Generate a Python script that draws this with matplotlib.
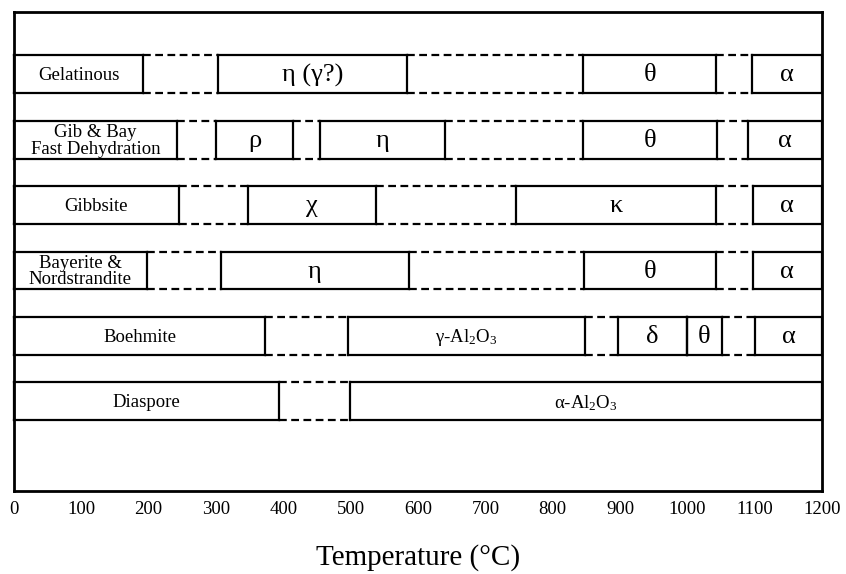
import matplotlib
matplotlib.use("Agg")
import matplotlib.pyplot as plt

plt.rcParams["font.family"] = ["Liberation Serif", "DejaVu Serif"]
plt.rcParams["mathtext.fontset"] = "custom"
plt.rcParams["mathtext.rm"] = "Liberation Serif"
plt.rcParams["mathtext.it"] = "Liberation Serif:italic"
plt.rcParams["mathtext.bf"] = "Liberation Serif:bold"

# ── data: phase boundaries (°C) per starting material, None = transition zone ──
gelatinous_edges = [0, 192, 303, 584, 845, 1043, 1096, 1200]
gelatinous_phases = ["Gelatinous", None, "η (γ?)", None, "θ", None, "α"]

gibbay_edges = [0, 242, 300, 414, 454, 640, 845, 1044, 1090, 1200]
gibbay_phases = ["Gib & Bay\nFast Dehydration", None, "ρ", None, "η", None, "θ", None, "α"]

gibbsite_edges = [0, 245, 347, 538, 746, 1043, 1097, 1200]
gibbsite_phases = ["Gibbsite", None, "χ", None, "κ", None, "α"]

bayerite_edges = [0, 197, 307, 586, 846, 1043, 1097, 1200]
bayerite_phases = ["Bayerite &\nNordstrandite", None, "η", None, "θ", None, "α"]

boehmite_edges = [0, 373, 496, 848, 897, 1000, 1051, 1101, 1200]
boehmite_phases = ["Boehmite", None, "γ-Al$_2$O$_3$", None, "δ", "θ", None, "α"]

diaspore_edges = [0, 394, 499, 1200]
diaspore_phases = ["Diaspore", None, "α-Al$_2$O$_3$"]

temp_ticks = list(range(0, 1300, 100))

rows = [
    (gelatinous_edges, gelatinous_phases),
    (gibbay_edges, gibbay_phases),
    (gibbsite_edges, gibbsite_phases),
    (bayerite_edges, bayerite_phases),
    (boehmite_edges, boehmite_phases),
    (diaspore_edges, diaspore_phases),
]

fig = plt.figure(figsize=(8.46, 5.74), dpi=100)
ax = fig.add_axes([14 / 846, 83 / 574, 808 / 846, 479 / 574])

half = 0.29
lw = 1.6
for i, (edges, phases) in enumerate(rows):
    top, bot = i - half, i + half
    for k, label in enumerate(phases):
        x0, x1 = edges[k], edges[k + 1]
        if label is None:
            # transition zone: dashed top/bottom only
            for y in (top, bot):
                ax.plot([x0, x1], [y, y], color="black", lw=lw, dashes=[3.5, 2],
                        solid_capstyle="butt", clip_on=False)
            continue
        for y in (top, bot):
            ax.plot([x0, x1], [y, y], color="black", lw=lw, clip_on=False)
        for x in (x0, x1):
            ax.plot([x, x], [top, bot], color="black", lw=lw, clip_on=False)
        if k == 0:
            size = 13.5
        elif "Al" in label:
            size = 13.5
        else:
            size = 19
        ax.text((x0 + x1) / 2, i + 0.02, label, ha="center", va="center",
                fontsize=size, linespacing=0.95)

ax.set_xlim(0, 1200)
ax.set_ylim(6.37, -0.95)
ax.set_xticks(temp_ticks)
ax.set_xticklabels([str(t) for t in temp_ticks], fontsize=13.5)
ax.set_yticks([])
ax.tick_params(axis="x", length=0, pad=7)
for sp in ax.spines.values():
    sp.set_linewidth(2)
ax.set_xlabel("Temperature (°C)", fontsize=21, labelpad=19)

fig.savefig("out.png", dpi=100)
